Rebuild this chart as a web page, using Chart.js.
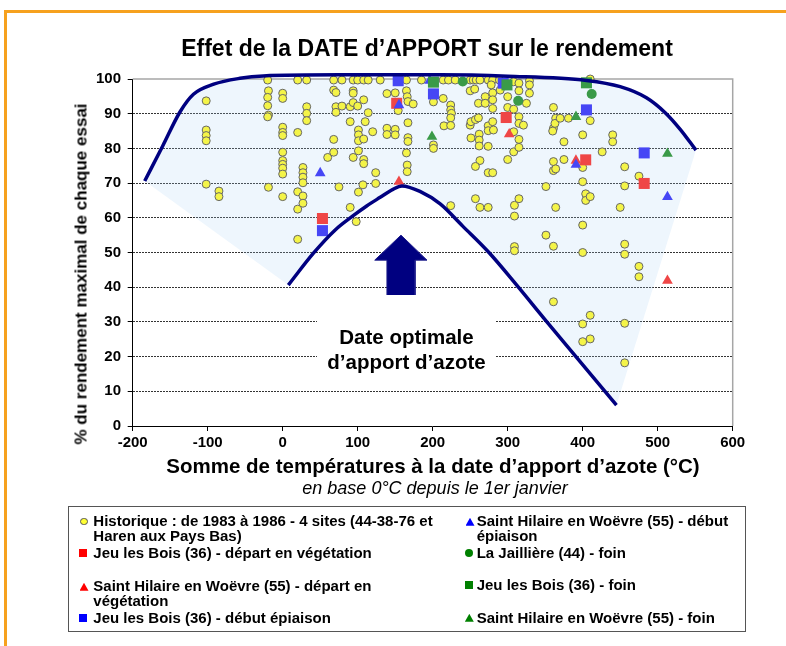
<!DOCTYPE html>
<html lang="fr">
<head>
<meta charset="utf-8">
<title>Effet de la date d'apport sur le rendement</title>
<script src="https://cdn.jsdelivr.net/npm/chart.js@4.4.1/dist/chart.umd.min.js"></script>
<style>
  html, body { margin: 0; padding: 0; background: #fff; }
  body { width: 786px; height: 646px; position: relative; overflow: hidden; font-family: 'Liberation Sans', Arial, sans-serif; color: #000; }
  #chart { position: absolute; left: 0; top: 0; }
  .frame-top { position: absolute; left: 4px; top: 10px; width: 782px; height: 3px; background: #f6a11e; }
  .frame-left { position: absolute; left: 4px; top: 10px; width: 3px; height: 636px; background: #f6a11e; }
  .txt { position: absolute; white-space: nowrap; font-weight: bold; }
  #title { left: 427px; top: 36.5px; font-size: 23px; line-height: 23px; transform: translateX(-50%); }
  #xTitle { left: 433px; top: 456px; font-size: 20.5px; line-height: 20.5px; transform: translateX(-50%); }
  #xSub { left: 435px; top: 479px; font-size: 18px; line-height: 18px; font-weight: normal; font-style: italic; transform: translateX(-50%); }
  #yTitle { left: 80.5px; top: 274px; font-size: 17px; line-height: 17px; transform: translate(-50%, -50%) rotate(-90deg); }
  #optimum { position: absolute; left: 317px; top: 295px; width: 179px; height: 90px; background: #fff; }
  #optimum div { position: absolute; left: -20px; right: -20px; top: 29.4px; text-align: center; font-weight: bold; font-size: 20.5px; line-height: 25px; white-space: nowrap; }
  #legend { position: absolute; left: 68px; top: 506px; width: 676px; height: 124px; border: 1.5px solid #555; }
  .item { position: absolute; white-space: nowrap; font-weight: bold; font-size: 15px; line-height: 15px; }
  .mk { position: absolute; box-sizing: border-box; }
  .sq { width: 8px; height: 8px; }
  .ci { width: 8px; height: 8px; border-radius: 50%; }
  .tri { width: 9px; height: 8px; clip-path: polygon(50% 0, 100% 100%, 0 100%); }
</style>
</head>
<body>
<div class="frame-top"></div>
<div class="frame-left"></div>
<canvas id="chart" width="786" height="646"></canvas>

<div class="txt" id="title">Effet de la DATE d’APPORT sur le rendement</div>
<div class="txt" id="yTitle">% du rendement maximal de chaque essai</div>
<div class="txt" id="xTitle">Somme de températures à la date d’apport d’azote (°C)</div>
<div class="txt" id="xSub">en base 0°C depuis le 1er janvier</div>
<div id="optimum"><div>Date optimale<br>d’apport d’azote</div></div>

<div id="legend"></div>
<span class="mk ci" style="left:80.2px;top:517.9px;width:7.5px;height:7.5px;background:#ffff33;border:1px solid #555"></span>
<div class="item" style="left:93.3px;top:513px">Historique : de 1983 à 1986 - 4 sites (44-38-76 et<br>Haren aux Pays Bas)</div>
<span class="mk sq" style="left:79.3px;top:548.7px;background:#f00"></span>
<div class="item" style="left:93.3px;top:545px">Jeu les Bois (36) - départ en végétation</div>
<span class="mk tri" style="left:79.5px;top:582.7px;background:#f00"></span>
<div class="item" style="left:93.3px;top:578.3px">Saint Hilaire en Woëvre (55) - départ en<br>végétation</div>
<span class="mk sq" style="left:79.3px;top:613.7px;background:#00f"></span>
<div class="item" style="left:93.3px;top:609.6px">Jeu les Bois (36) - début épiaison</div>
<span class="mk tri" style="left:465.5px;top:517.7px;background:#00f"></span>
<div class="item" style="left:476.7px;top:513px">Saint Hilaire en Woëvre (55) - début<br>épiaison</div>
<span class="mk ci" style="left:465.3px;top:548.7px;background:#008000"></span>
<div class="item" style="left:476.7px;top:545px">La Jaillière (44) - foin</div>
<span class="mk sq" style="left:465.3px;top:581px;background:#008000"></span>
<div class="item" style="left:476.7px;top:577.3px">Jeu les Bois (36) - foin</div>
<span class="mk tri" style="left:464.8px;top:613.7px;background:#008000"></span>
<div class="item" style="left:476.7px;top:609.6px">Saint Hilaire en Woëvre (55) - foin</div>

<script>
const FONT = "'Liberation Sans', Arial, sans-serif";

// Axis ticks
const xTicks = [-200, -100, 0, 100, 200, 300, 400, 500, 600];
const yTicks = [0, 10, 20, 30, 40, 50, 60, 70, 80, 90, 100];

// [somme de températures (°C), % du rendement maximal]
const historique = [
  [-102, 93.7], [-102, 85.3], [-102, 83.7], [-102, 82.2], [-102, 69.7],
  [-85, 67.7], [-85, 66.1],
  [-20, 99.7], [-19, 96.6], [-20, 94.7], [-20, 92.3], [-19, 89.6], [-20, 89.1], [-19, 68.8],
  [0, 95.9], [0, 94.4], [0, 86.1], [0, 84.6], [0, 83.7], [0, 78.9], [0, 76.5], [0, 75.4], [0, 74.3], [0, 72.6], [0, 66.1],
  [20, 99.7], [20, 84.6], [20, 67.5], [20, 62.5], [20, 53.8],
  [27, 74.5], [27, 73.0], [27, 71.7], [27, 70.1], [27, 66.3], [27, 64.2],
  [32, 99.7], [32, 92.0], [32, 90.1], [32, 88.0],
  [60, 77.4],
  [68, 99.7], [68, 96.8], [71, 96.1], [68, 82.6], [68, 78.9],
  [71, 92.0], [79, 92.2], [71, 90.4], [79, 99.7], [75, 68.9],
  [90, 92.0], [90, 87.7], [90, 63.0],
  [94, 99.7], [94, 96.6], [94, 95.9], [94, 93.2], [94, 77.4],
  [100, 99.7], [100, 92.2], [101, 85.3], [101, 83.9], [101, 82.2], [101, 79.3], [101, 67.4], [98, 58.9],
  [108, 99.7], [108, 94.0], [108, 82.7], [108, 76.8], [108, 75.6], [107, 69.5],
  [110, 87.7], [114, 99.7], [114, 90.3], [120, 84.8], [124, 73.0], [124, 69.9], [130, 99.7],
  [139, 95.8], [139, 85.8], [139, 84.0],
  [150, 96.0], [150, 85.5], [150, 83.9], [154, 90.9],
  [165, 99.7], [165, 96.6], [166, 94.9], [167, 93.5], [167, 87.4], [167, 83.1], [167, 82.0], [165, 78.7], [166, 75.2], [166, 73.3],
  [174, 92.8], [185, 99.7],
  [201, 93.4], [201, 81.0], [201, 80.0],
  [214, 99.7], [214, 94.4], [215, 86.5], [221, 99.7], [230, 99.7],
  [224, 92.5], [224, 91.1], [225, 90.1], [224, 88.8], [224, 86.6], [224, 63.5],
  [250, 99.7], [250, 96.6], [250, 86.7], [251, 83.0],
  [254, 99.7], [258, 99.7], [263, 99.7],
  [256, 97.1], [261, 93.0], [251, 87.7], [257, 88.3], [261, 88.8],
  [262, 84.1], [262, 82.4], [262, 80.7],
  [263, 76.5], [257, 74.8], [257, 65.5], [263, 63.0], [274, 63.0],
  [270, 94.9], [270, 93.0],
  [274, 99.7], [274, 86.5], [274, 85.1], [274, 80.6], [274, 73.0],
  [280, 99.7], [280, 96.0], [280, 94.0], [280, 91.5], [280, 87.7], [281, 85.3], [280, 73.0], [278, 98.3],
  [289, 99.7], [290, 96.8],
  [300, 94.9], [300, 91.8], [300, 76.8],
  [308, 91.3], [308, 84.8], [308, 79.0], [308, 99.2],
  [309, 63.6], [309, 60.5], [309, 51.7], [309, 50.5],
  [315, 98.8], [315, 96.6], [315, 89.1], [315, 87.2], [315, 82.6], [315, 80.3], [315, 65.5],
  [321, 86.7], [325, 93.0],
  [329, 99.5], [329, 98.3], [329, 95.9],
  [351, 69.0], [351, 55.0],
  [361, 91.8], [361, 85.8], [360, 85.0], [361, 76.2], [361, 73.6], [361, 51.8], [361, 35.8],
  [364, 88.7], [363, 87.2], [364, 74.1], [364, 63.0],
  [370, 88.7], [375, 81.9], [375, 76.8], [381, 88.7],
  [400, 83.9], [400, 74.5], [400, 70.4], [400, 57.9], [400, 50.0], [400, 29.4], [400, 24.3],
  [404, 66.9], [404, 65.0],
  [410, 88.0], [410, 66.1], [410, 31.9], [410, 25.1], [410, 100.0],
  [426, 79.0], [440, 83.9], [440, 81.9], [450, 63.0],
  [456, 74.7], [456, 69.2], [456, 52.4], [456, 49.5], [456, 29.6], [456, 18.2],
  [475, 72.0], [475, 46.0], [475, 43.0]
];
const jeuDepart = [[53, 59.8], [152, 93.0], [298, 88.9], [404, 76.7], [482, 69.9]];
const hilaireDepart = [[155, 70.4], [302, 84.1], [391, 76.5], [513, 41.9]];
const jeuEpiaison = [[53, 56.3], [154, 99.5], [201, 95.7], [294, 98.8], [405, 91.1], [482, 78.7]];
const hilaireEpiaison = [[50, 72.9], [155, 92.5], [196, 99.5], [391, 75.3], [513, 66.0]];
const jaillFoin = [[240, 99.3], [314, 93.7], [412, 95.7]];
const jeuFoin = [[201, 99.1], [299, 98.3], [405, 98.9]];
const hilaireFoin = [[199, 83.4], [391, 89.1], [513, 78.5]];

// Envelope of the results, curve of the optimum and the arrow
const enveloppe = [
  [-184, 70.6], [-160, 80.7], [-137, 90.5], [-119, 95.6], [-92, 98.5], [-57, 100.2], [-26, 100.9],
  [76, 101.2], [210, 101.2], [300, 100.8], [405, 99.6], [450, 97.8], [485, 94.6], [510, 90.3], [530, 85.5], [551, 79.5]
];
const courbeOptimum = [
  [7.5, 40.6], [41, 49.8], [70, 56.5], [94, 60.6], [112, 63.4], [130, 65.9], [147, 68.2], [159, 69.2],
  [183, 67.6], [210, 64.0], [240, 57.6], [275, 50.0], [312, 40.6], [350, 30.6], [389, 20.5], [445, 6.0]
];
const fleche = [
  [139, 34.4], [139, 47.8], [122.7, 47.8], [157.7, 55.0], [192.4, 47.8], [176.4, 47.8], [176.4, 34.4], [139, 34.4]
];

const pts = arr => arr.map(([x, y]) => ({ x, y }));

// lower edge of the light blue zone
const bordBas = [enveloppe[0], ...courbeOptimum, enveloppe[enveloppe.length - 1]];

function markers(label, data, style, color, radius, order, border) {
  return {
    label, data: pts(data), showLine: false, order, clip: false,
    pointStyle: style, pointRadius: radius,
    pointBackgroundColor: color,
    pointBorderColor: border || color,
    pointBorderWidth: border ? 1 : 0
  };
}

// grey frame on the top and right of the plot
const plotFrame = {
  id: 'plotFrame',
  beforeDatasetsDraw(chart) {
    const { ctx, chartArea: a } = chart;
    ctx.save();
    ctx.strokeStyle = '#a6a6a6';
    ctx.lineWidth = 1.5;
    ctx.beginPath();
    ctx.moveTo(a.left, a.top);
    ctx.lineTo(a.right, a.top);
    ctx.lineTo(a.right, a.bottom);
    ctx.stroke();
    ctx.restore();
  }
};

document.addEventListener('DOMContentLoaded', () => {
  const tickFont = { family: FONT, size: 15, weight: 'bold' };

  new Chart(document.getElementById('chart'), {
    type: 'line',
    data: {
      datasets: [
        {
          label: 'enveloppe', data: pts(enveloppe), order: 1, clip: false,
          borderColor: '#000080', borderWidth: 3.5, pointRadius: 0,
          cubicInterpolationMode: 'monotone', capBezierPoints: false,
          fill: 1, backgroundColor: 'rgba(170, 210, 245, 0.2)'
        },
        {
          label: 'bord', data: pts(bordBas), order: 1, borderColor: 'transparent',
          pointRadius: 0, tension: 0, fill: false
        },
        {
          label: 'optimum', data: pts(courbeOptimum), order: 1, clip: false,
          borderColor: '#000080', borderWidth: 3.5, pointRadius: 0,
          cubicInterpolationMode: 'monotone', fill: false
        },
        {
          label: 'flèche', data: pts(fleche), order: 2, tension: 0,
          borderColor: '#1a1a8a', borderWidth: 1, pointRadius: 0,
          fill: 'shape', backgroundColor: '#000080'
        },
        markers('Historique : de 1983 à 1986 - 4 sites (44-38-76 et Haren aux Pays Bas)', historique, 'circle', '#f4f448', 4, 10, '#666'),
        markers('Jeu les Bois (36) - départ en végétation', jeuDepart, 'rect', '#ef4646', 7.8, 9),
        markers('Saint Hilaire en Woëvre (55) - départ en végétation', hilaireDepart, 'triangle', '#ef4646', 6.2, 8),
        markers('Jeu les Bois (36) - début épiaison', jeuEpiaison, 'rect', '#4646f5', 7.8, 7),
        markers('Saint Hilaire en Woëvre (55) - début épiaison', hilaireEpiaison, 'triangle', '#4646f5', 6.2, 6),
        markers('La Jaillière (44) - foin', jaillFoin, 'circle', '#3a9a48', 5, 5),
        markers('Jeu les Bois (36) - foin', jeuFoin, 'rect', '#3a9a48', 7.8, 4),
        markers('Saint Hilaire en Woëvre (55) - foin', hilaireFoin, 'triangle', '#3a9a48', 6.2, 3)
      ]
    },
    options: {
      responsive: false,
      animation: false,
      events: [],
      layout: { padding: { left: 0, top: 79, right: 53.3, bottom: 190 } },
      plugins: {
        legend: { display: false },
        tooltip: { enabled: false },
        filler: { drawTime: 'beforeDatasetsDraw', propagate: false }
      },
      scales: {
        x: {
          type: 'linear', min: -200, max: 600,
          afterBuildTicks: s => { s.ticks = xTicks.map(v => ({ value: v })); },
          afterFit: s => { s.height = 30; s.paddingLeft = 0; s.paddingRight = 0; },
          grid: { drawOnChartArea: false, tickLength: 5, tickColor: '#000', tickWidth: 1 },
          border: { color: '#000', width: 1 },
          ticks: { font: tickFont, color: '#000', padding: 3, maxRotation: 0, autoSkip: false }
        },
        y: {
          type: 'linear', min: 0, max: 100,
          afterBuildTicks: s => { s.ticks = yTicks.map(v => ({ value: v })); },
          afterFit: s => { s.width = 132.7; s.paddingTop = 0; s.paddingBottom = 0; },
          grid: {
            color: c => (c.tick && c.tick.value > 0 && c.tick.value < 100) ? '#333' : 'transparent',
            lineWidth: 1, tickLength: 5, tickColor: '#000', tickWidth: 1
          },
          border: { color: '#000', width: 1, dash: [2, 1] },
          ticks: { font: tickFont, color: '#000', padding: 6.7 }
        }
      }
    },
    plugins: [plotFrame]
  });
});
</script>
</body>
</html>
